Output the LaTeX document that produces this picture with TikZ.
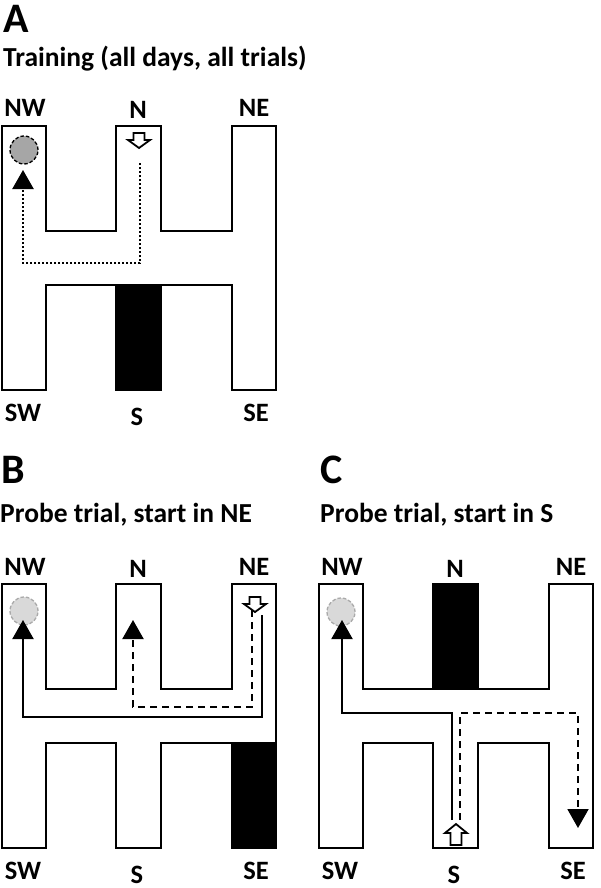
\documentclass[tikz,border=0pt]{standalone}
\usepackage{fontspec}
\setmainfont{Carlito}
\usetikzlibrary{arrows.meta}
\definecolor{goalgray}{RGB}{166,166,166}
\definecolor{goallight}{RGB}{217,217,217}
\definecolor{goalrim}{RGB}{170,170,170}
\tikzset{
  maze/.style={draw=black, line width=1.5pt, fill=white, line join=miter},
  blockwall/.style={fill=black, draw=black, line width=1.5pt},
  lbl/.style={font=\bfseries\fontsize{26.5}{30}\selectfont, anchor=base, inner sep=0pt},
  ttl/.style={font=\bfseries\fontsize{27.5}{32}\selectfont, anchor=base west, inner sep=0pt},
  panel/.style={font=\bfseries\fontsize{42}{48}\selectfont, anchor=base west, inner sep=0pt},
  tipstyle/.style={-{Triangle[length=19pt,width=21pt]}},
  solidpath/.style={line width=2pt, tipstyle},
  dashpath/.style={line width=2pt, dash pattern=on 7pt off 5pt, tipstyle},
  dotpath/.style={line width=2.2pt, dash pattern=on 2pt off 2pt, tipstyle},
  goaldark/.style={circle, minimum size=28pt, inner sep=0pt, fill=goalgray, draw=black, line width=1.3pt, dash pattern=on 3.5pt off 2pt},
  goalpale/.style={circle, minimum size=28pt, inner sep=0pt, fill=goallight, draw=goalrim, line width=1.3pt, dash pattern=on 3.5pt off 2pt},
  openarrow/.style={draw=black, fill=white, line width=1.8pt, line join=miter},
}
\newcommand\mazeoutline{%
  \draw[maze] (2,126) -- (46,126) -- (46,231) -- (116,231) -- (116,126) -- (161,126)
    -- (161,231) -- (232,231) -- (232,126) -- (276,126) -- (276,390) -- (232,390)
    -- (232,285) -- (161,285) -- (161,390) -- (116,390) -- (116,285) -- (46,285)
    -- (46,390) -- (2,390) -- cycle;}
\newcommand\armlabels[1]{%
  \node[lbl] (#1NW) at (25,117) {NW};
  \node[lbl] (#1N)  at (138,119) {N};
  \node[lbl] (#1NE) at (254,117) {NE};
  \node[lbl] (#1SW) at (23,421) {SW};
  \node[lbl] (#1S)  at (137,425) {S};
  \node[lbl] (#1SE) at (256,421) {SE};}
% open block arrow pointing down, top centre at (#1,#2)
\newcommand\downblock[2]{%
  \draw[openarrow] (#1-5.5,#2) -- (#1+5.5,#2) -- (#1+5.5,#2+7) -- (#1+11,#2+7)
    -- (#1,#2+15) -- (#1-11,#2+7) -- (#1-5.5,#2+7) -- cycle;}
% open block arrow pointing up, tip at (#1,#2)
\newcommand\upblock[2]{%
  \draw[openarrow] (#1,#2) -- (#1+11,#2+9) -- (#1+5.5,#2+9) -- (#1+5.5,#2+21)
    -- (#1-5.5,#2+21) -- (#1-5.5,#2+9) -- (#1-11,#2+9) -- cycle;}
\begin{document}
\begin{tikzpicture}[x=1pt,y=-1pt]
\useasboundingbox (0,0) rectangle (600,888);
\fill[white] (0,0) rectangle (600,888);

% ---------------- Panel A ----------------
\node[panel] (pA) at (3,33) {A};
\node[ttl] (tA) at (3,67) {Training (all days, all trials)};
\begin{scope}
  \mazeoutline
  \fill[blockwall] (116,285) rectangle (161,390);
  \armlabels{a}
  \node[goaldark] (aGoal) at (24,150) {};
  \downblock{139}{133}
  \coordinate (aStart) at (140,163);
  \coordinate (aEnd) at (23,170);
  \draw[dotpath] (aStart) -- (140,263) -- (23,263) -- (aEnd);
\end{scope}

% ---------------- Panel B ----------------
\node[panel] (pB) at (1,483) {B};
\node[ttl] (tB) at (0,522) {Probe trial, start in NE};
\begin{scope}[shift={(0,458)}]
  \mazeoutline
  \fill[blockwall] (232,285) rectangle (276,390);
  \armlabels{b}
  \node[goalpale] (bGoal) at (24,153) {};
  \downblock{255}{139}
  \coordinate (bSolidStart) at (262,157);
  \coordinate (bSolidEnd) at (23,162);
  \draw[solidpath] (bSolidStart) -- (262,259) -- (23,259) -- (bSolidEnd);
  \coordinate (bDashStart) at (252,152);
  \coordinate (bDashEnd) at (133,162);
  \draw[dashpath] (bDashStart) -- (252,249) -- (133,249) -- (bDashEnd);
\end{scope}

% ---------------- Panel C ----------------
\node[panel] (pC) at (320,483) {C};
\node[ttl] (tC) at (320,522) {Probe trial, start in S};
\begin{scope}[shift={(317,458)}]
  \mazeoutline
  \fill[blockwall] (116,126) rectangle (161,231);
  \armlabels{c}
  \node[goalpale] (cGoal) at (24,154) {};
  \upblock{139}{366}
  \coordinate (cSolidStart) at (135,362);
  \coordinate (cSolidEnd) at (25,162);
  \draw[solidpath] (cSolidStart) -- (135,255) -- (25,255) -- (cSolidEnd);
  \coordinate (cDashStart) at (143,362);
  \coordinate (cDashEnd) at (261,370);
  \draw[dashpath] (cDashStart) -- (143,255) -- (261,255) -- (cDashEnd);
\end{scope}
\end{tikzpicture}
\end{document}
